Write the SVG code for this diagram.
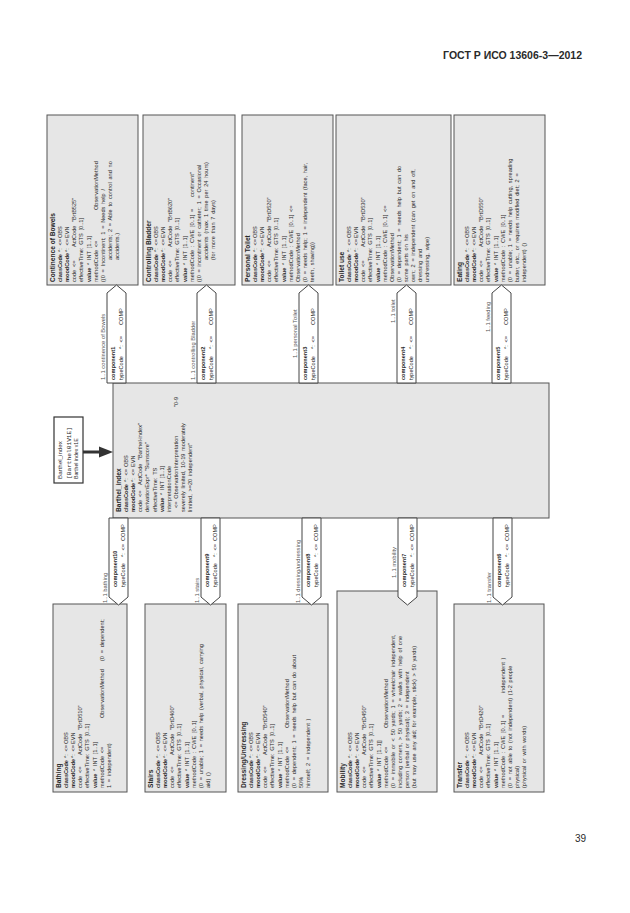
<svg xmlns="http://www.w3.org/2000/svg" width="630" height="913" viewBox="0 0 630 913">
<style>
text{font-family:"Liberation Sans",Arial,Helvetica,sans-serif;fill:#2a2a2a}
.t{font-size:5.6px;word-spacing:1.2px}
.b{font-weight:bold}
.ti{font-size:6.6px;font-weight:bold}
.lb{font-size:5.8px;fill:#555}
.bx{fill:#e6e6e6;stroke:#555;stroke-width:1}
.cp{fill:#fff;stroke:#444;stroke-width:1}
.sb{fill:#fff;stroke:#333;stroke-width:1.2}
.mono{font-family:"Liberation Mono","Courier New",monospace;font-size:6.2px}
</style>
<rect width="630" height="913" fill="#fff"/>
<text x="582" y="58.5" text-anchor="end" font-size="10.5" font-weight="bold">ГОСТ Р ИСО 13606-3—2012</text>
<text x="586" y="842" text-anchor="end" font-size="10">39</text>
<g transform="translate(0,913) rotate(-90)">

<g id="barthel-index-ref">
<rect class="sb" x="430" y="54" width="66" height="29"/>
<text x="434" y="62" font-size="6.2">Barthel_index</text>
<text class="mono" x="434" y="70.5">[Barthel01V1E]</text>
<text x="434" y="78" font-size="5.2">Barthel index v1E</text>
</g>

<g id="barthel-index">
<rect class="bx" x="395" y="113" width="135" height="436"/>
<text class="ti" x="401" y="121">Barthel_index</text>
<text class="t" y="128.1"><tspan x="401" class="b">classCode</tspan><tspan x="431">*: &lt;=</tspan><tspan x="446">OBS</tspan></text>
<text class="t" y="135.2"><tspan x="401" class="b">moodCode</tspan><tspan x="431">*: &lt;=</tspan><tspan x="446">EVN</tspan></text>
<text class="t" y="142.3"><tspan x="401">code &lt;=</tspan><tspan x="428">ActCode</tspan><tspan x="453">"Barthel-index"</tspan></text>
<text class="t" x="401" y="149.4">derivationExpr* "Sumscore"</text>
<text class="t" x="401" y="156.5">effectiveTime: TS</text>
<text class="t" x="401" y="163.6"><tspan class="b">value</tspan> * INT [1..1]</text>
<text class="t" x="401" y="170.7">interpretationCode</text>
<text class="t" y="177.8"><tspan x="405">&lt;= ObservationInterpretation</tspan><tspan x="506">"0-9</tspan></text>
<text class="t" x="401" y="184.9">severely limited, 10-19 moderately</text>
<text class="t" x="401" y="192">limited, &gt;=20 independent"</text>
</g>

<g id="continence-of-bowels">
<rect class="bx" x="628" y="47" width="170" height="91"/>
<text class="ti" x="631" y="55">Continence of Bowels</text>
<text class="t" y="62.1"><tspan x="631" class="b">classCode</tspan><tspan x="661">*: &lt;=</tspan><tspan x="675">OBS</tspan></text>
<text class="t" y="69.2"><tspan x="631" class="b">moodCode</tspan><tspan x="661">*: &lt;=</tspan><tspan x="675">EVN</tspan></text>
<text class="t" y="76.3"><tspan x="631">code &lt;=</tspan><tspan x="666">ActCode</tspan><tspan x="691">"BrtB525"</tspan></text>
<text class="t" x="631" y="83.4">effectiveTime: GTS [0..1]</text>
<text class="t" x="631" y="90.5"><tspan class="b">value</tspan> * INT [1..1]</text>
<text class="t" y="97.6"><tspan x="631">methodCode &lt;=</tspan><tspan x="703">ObservationMethod</tspan></text>
<text class="t" x="631" y="104.7">((0 = Incontinent; 1 = Needs help /</text>
<text class="t" x="653" y="111.8">accidents; 2 = Able to control and no</text>
<text class="t" x="653" y="118.9">accidents.)</text>
</g>

<g id="controlling-bladder">
<rect class="bx" x="628" y="143" width="170" height="92"/>
<text class="ti" x="631" y="151">Controlling Bladder</text>
<text class="t" y="158.1"><tspan x="631" class="b">classCode</tspan><tspan x="661">*: &lt;=</tspan><tspan x="675">OBS</tspan></text>
<text class="t" y="165.2"><tspan x="631" class="b">moodCode</tspan><tspan x="661">*: &lt;=</tspan><tspan x="675">EVN</tspan></text>
<text class="t" y="172.3"><tspan x="631">code &lt;=</tspan><tspan x="666">ActCode</tspan><tspan x="691">"BrtB620"</tspan></text>
<text class="t" x="631" y="179.4">effectiveTime: GTS [0..1]</text>
<text class="t" x="631" y="186.5"><tspan class="b">value</tspan> * INT [1..1]</text>
<text class="t" y="193.6"><tspan x="631">methodCode : CWE [0..1] =</tspan><tspan x="716">continent"</tspan></text>
<text class="t" x="631" y="200.7">((0 = incontinent or catheter; 1 = Occasional</text>
<text class="t" x="653" y="207.8">accidents (max. 1 time per 24 hours)</text>
<text class="t" x="653" y="214.9">(for more than 7 days)</text>
</g>

<g id="personal-toilet">
<rect class="bx" x="628" y="242" width="170" height="91"/>
<text class="ti" x="631" y="250">Personal Toilet</text>
<text class="t" y="257.1"><tspan x="631" class="b">classCode</tspan><tspan x="661">*: &lt;=</tspan><tspan x="675">OBS</tspan></text>
<text class="t" y="264.2"><tspan x="631" class="b">moodCode</tspan><tspan x="661">*: &lt;=</tspan><tspan x="675">EVN</tspan></text>
<text class="t" y="271.3"><tspan x="631">code &lt;=</tspan><tspan x="666">ActCode</tspan><tspan x="691">"BrtD520"</tspan></text>
<text class="t" x="631" y="278.4">effectiveTime: GTS [0..1]</text>
<text class="t" x="631" y="285.5"><tspan class="b">value</tspan> * INT [1..1]</text>
<text class="t" x="631" y="292.6">methodCode : CWE [0..1] &lt;=</text>
<text class="t" x="631" y="299.7">ObservationMethod</text>
<text class="t" x="631" y="306.8">(0 = needs help; 1 = independent (face, hair,</text>
<text class="t" x="631" y="313.9">teeth, shaving))</text>
</g>

<g id="toilet-use">
<rect class="bx" x="628" y="336" width="170" height="115"/>
<text class="ti" x="631" y="344">Toilet use</text>
<text class="t" y="351.1"><tspan x="631" class="b">classCode</tspan><tspan x="661">*: &lt;=</tspan><tspan x="675">OBS</tspan></text>
<text class="t" y="358.2"><tspan x="631" class="b">moodCode</tspan><tspan x="661">*: &lt;=</tspan><tspan x="675">EVN</tspan></text>
<text class="t" y="365.3"><tspan x="631">code &lt;=</tspan><tspan x="666">ActCode</tspan><tspan x="691">"BrtD530"</tspan></text>
<text class="t" x="631" y="372.4">effectiveTime: GTS [0..1]</text>
<text class="t" x="631" y="379.5"><tspan class="b">value</tspan> * INT [1..1]</text>
<text class="t" x="631" y="386.6">methodCode : CWE [0..1] &lt;=</text>
<text class="t" x="631" y="393.7">ObservationMethod</text>
<text class="t" x="631" y="400.8">(0 = dependent; 1 = needs help but can do</text>
<text class="t" x="631" y="407.9">some parts on his</text>
<text class="t" x="631" y="415">own; 2 = independent (can get on and off,</text>
<text class="t" x="631" y="422.1">dressing and</text>
<text class="t" x="631" y="429.2">undressing, wipe)</text>
</g>

<g id="eating">
<rect class="bx" x="628" y="454" width="170" height="91"/>
<text class="ti" x="631" y="462">Eating</text>
<text class="t" y="469.1"><tspan x="631" class="b">classCode</tspan><tspan x="661">*: &lt;=</tspan><tspan x="675">OBS</tspan></text>
<text class="t" y="476.2"><tspan x="631" class="b">moodCode</tspan><tspan x="661">*: &lt;=</tspan><tspan x="675">EVN</tspan></text>
<text class="t" y="483.3"><tspan x="631">code &lt;=</tspan><tspan x="666">ActCode</tspan><tspan x="691">"BrtD550"</tspan></text>
<text class="t" x="631" y="490.4">effectiveTime: GTS [0..1]</text>
<text class="t" x="631" y="497.5"><tspan class="b">value</tspan> * INT [1..1]</text>
<text class="t" x="631" y="504.6">methodCode : CWE [0..1]</text>
<text class="t" x="631" y="511.7">(0 = unable; 1 = needs help cutting, spreading</text>
<text class="t" x="631" y="518.8">butter, etc., or requires modified diet; 2 =</text>
<text class="t" x="631" y="525.9">independent) ()</text>
</g>

<g id="bathing">
<rect class="bx" x="121" y="53" width="188" height="74"/>
<text class="ti" x="125" y="61">Bathing</text>
<text class="t" y="68.1"><tspan x="125" class="b">classCode</tspan><tspan x="155">*: &lt;=</tspan><tspan x="169">OBS</tspan></text>
<text class="t" y="75.2"><tspan x="125" class="b">moodCode</tspan><tspan x="155">*: &lt;=</tspan><tspan x="169">EVN</tspan></text>
<text class="t" y="82.3"><tspan x="125">code &lt;=</tspan><tspan x="158">ActCode</tspan><tspan x="183">"BrtD510"</tspan></text>
<text class="t" x="125" y="89.4">effectiveTime: GTS [0..1]</text>
<text class="t" x="125" y="96.5"><tspan class="b">value</tspan> * INT [1..1]</text>
<text class="t" y="103.6"><tspan x="125">methodCode &lt;=</tspan><tspan x="195">ObservationMethod</tspan><tspan x="252">(0 = dependent;</tspan></text>
<text class="t" x="125" y="110.7">1 = independent)</text>
</g>

<g id="stairs">
<rect class="bx" x="121" y="145" width="188" height="81"/>
<text class="ti" x="125" y="153">Stairs</text>
<text class="t" y="160.1"><tspan x="125" class="b">classCode</tspan><tspan x="155">*: &lt;=</tspan><tspan x="169">OBS</tspan></text>
<text class="t" y="167.2"><tspan x="125" class="b">moodCode</tspan><tspan x="155">*: &lt;=</tspan><tspan x="169">EVN</tspan></text>
<text class="t" y="174.3"><tspan x="125">code &lt;=</tspan><tspan x="158">ActCode</tspan><tspan x="183">"BrtD460"</tspan></text>
<text class="t" x="125" y="181.4">effectiveTime: GTS [0..1]</text>
<text class="t" x="125" y="188.5"><tspan class="b">value</tspan> * INT [1..1]</text>
<text class="t" x="125" y="195.6">methodCode : CWE [0..1]</text>
<text class="t" x="125" y="202.7">(0 = unable; 1 = needs help (verbal, physical, carrying</text>
<text class="t" x="125" y="209.8">aid) ()</text>
</g>

<g id="dressing-undressing">
<rect class="bx" x="121" y="238" width="188" height="90"/>
<text class="ti" x="125" y="246">Dressing/Undressing</text>
<text class="t" y="253.1"><tspan x="125" class="b">classCode</tspan><tspan x="155">*: &lt;=</tspan><tspan x="169">OBS</tspan></text>
<text class="t" y="260.2"><tspan x="125" class="b">moodCode</tspan><tspan x="155">*: &lt;=</tspan><tspan x="169">EVN</tspan></text>
<text class="t" y="267.3"><tspan x="125">code &lt;=</tspan><tspan x="158">ActCode</tspan><tspan x="183">"BrtD540"</tspan></text>
<text class="t" x="125" y="274.4">effectiveTime: GTS [0..1]</text>
<text class="t" x="125" y="281.5"><tspan class="b">value</tspan> * INT [1..1]</text>
<text class="t" y="288.6"><tspan x="125">methodCode &lt;=</tspan><tspan x="185">ObservationMethod</tspan></text>
<text class="t" x="125" y="295.7">(0 = dependent; 1 = needs help but can do about</text>
<text class="t" x="125" y="302.8">50%</text>
<text class="t" x="125" y="309.9">himself; 2 = independent )</text>
</g>

<g id="mobility">
<rect class="bx" x="121" y="337" width="201" height="100"/>
<text class="ti" x="125" y="345">Mobility</text>
<text class="t" y="352.1"><tspan x="125" class="b">classCode</tspan><tspan x="155">*: &lt;=</tspan><tspan x="169">OBS</tspan></text>
<text class="t" y="359.2"><tspan x="125" class="b">moodCode</tspan><tspan x="155">*: &lt;=</tspan><tspan x="169">EVN</tspan></text>
<text class="t" y="366.3"><tspan x="125">code &lt;=</tspan><tspan x="158">ActCode</tspan><tspan x="183">"BrtD450"</tspan></text>
<text class="t" x="125" y="373.4">effectiveTime: GTS [0..1]</text>
<text class="t" x="125" y="380.5"><tspan class="b">value</tspan> * INT [1..1]]</text>
<text class="t" y="387.6"><tspan x="125">methodCode &lt;=</tspan><tspan x="185">ObservationMethod</tspan></text>
<text class="t" x="125" y="394.7">(0 = immobile or &lt; 50 yards; 1 = wheelchair independent,</text>
<text class="t" x="125" y="401.8">including corners, &gt; 50 yards; 2 = walks with help of one</text>
<text class="t" x="125" y="408.9">person (verbal or physical); 3 = independent</text>
<text class="t" x="125" y="416">(but may use any aid; for example, stick) &gt; 50 yards)</text>
</g>

<g id="transfer">
<rect class="bx" x="121" y="454" width="188" height="90"/>
<text class="ti" x="125" y="462">Transfer</text>
<text class="t" y="469.1"><tspan x="125" class="b">classCode</tspan><tspan x="155">*: &lt;=</tspan><tspan x="169">OBS</tspan></text>
<text class="t" y="476.2"><tspan x="125" class="b">moodCode</tspan><tspan x="155">*: &lt;=</tspan><tspan x="169">EVN</tspan></text>
<text class="t" y="483.3"><tspan x="125">code &lt;=</tspan><tspan x="158">ActCode</tspan><tspan x="183">"BrtD420"</tspan></text>
<text class="t" x="125" y="490.4">effectiveTime: GTS [0..1]</text>
<text class="t" x="125" y="497.5"><tspan class="b">value</tspan> * INT [1..1]</text>
<text class="t" y="504.6"><tspan x="125">methodCode : CWE [0..1] =</tspan><tspan x="220">independent )</tspan></text>
<text class="t" x="125" y="511.7">(0 = not able to (not independent) (1-2 people</text>
<text class="t" x="125" y="518.8">physical)</text>
<text class="t" x="125" y="525.9">(physical or with words)</text>
</g>

<g id="connectors">
<g id="arrow-ref">
<line x1="461" y1="83" x2="461" y2="100" stroke="#333" stroke-width="3"/>
<polygon points="461,113 455.5,99 466.5,99" fill="#333"/>
</g>
<g id="component1">
<polygon class="cp" points="530,107 620,107 628,116.5 620,126 530,126"/>
<text class="t b" x="533" y="114.8">component1</text>
<text class="t" y="123"><tspan x="533">typeCode</tspan><tspan x="564">*: &lt;=</tspan><tspan x="588">COMP</tspan></text>
<text class="lb" x="533" y="104.5">1..1 continence of Bowels</text>
</g>
<g id="component2">
<polygon class="cp" points="530,197 620,197 628,206.5 620,216 530,216"/>
<text class="t b" x="533" y="204.8">component2</text>
<text class="t" y="213"><tspan x="533">typeCode</tspan><tspan x="564">*: &lt;=</tspan><tspan x="588">COMP</tspan></text>
<text class="lb" x="533" y="194.5">1..1 controlling Bladder</text>
</g>
<g id="component3">
<polygon class="cp" points="530,299 620,299 628,308.5 620,318 530,318"/>
<text class="t b" x="533" y="306.8">component3</text>
<text class="t" y="315"><tspan x="533">typeCode</tspan><tspan x="564">*: &lt;=</tspan><tspan x="588">COMP</tspan></text>
<text class="lb" x="555" y="296.5">1..1 personal Toilet</text>
</g>
<g id="component4">
<polygon class="cp" points="530,397 620,397 628,406.5 620,416 530,416"/>
<text class="t b" x="533" y="404.8">component4</text>
<text class="t" y="413"><tspan x="533">typeCode</tspan><tspan x="564">*: &lt;=</tspan><tspan x="588">COMP</tspan></text>
<text class="lb" x="590" y="394.5">1..1 toilet</text>
</g>
<g id="component5">
<polygon class="cp" points="530,492 620,492 628,501.5 620,511 530,511"/>
<text class="t b" x="533" y="499.8">component5</text>
<text class="t" y="508"><tspan x="533">typeCode</tspan><tspan x="564">*: &lt;=</tspan><tspan x="588">COMP</tspan></text>
<text class="lb" x="581" y="489.5">1..1 feeding</text>
</g>
<g id="component10">
<polygon class="cp" points="395,109 316,109 308,118.5 316,128 395,128"/>
<text class="t b" x="326" y="116.8">component10</text>
<text class="t" y="125"><tspan x="326">typeCode</tspan><tspan x="356">*: &lt;=</tspan><tspan x="372">COMP</tspan></text>
<text class="lb" x="310" y="106.5">1..1 bathing</text>
</g>
<g id="component9">
<polygon class="cp" points="395,201 316,201 308,210.5 316,220 395,220"/>
<text class="t b" x="326" y="208.8">component9</text>
<text class="t" y="217"><tspan x="326">typeCode</tspan><tspan x="356">*: &lt;=</tspan><tspan x="372">COMP</tspan></text>
<text class="lb" x="310" y="198.5">1..1 stairs</text>
</g>
<g id="component8">
<polygon class="cp" points="395,302 316,302 308,311.5 316,321 395,321"/>
<text class="t b" x="326" y="309.8">component8</text>
<text class="t" y="318"><tspan x="326">typeCode</tspan><tspan x="356">*: &lt;=</tspan><tspan x="372">COMP</tspan></text>
<text class="lb" x="310" y="299.5">1..1 dressing/undressing</text>
</g>
<g id="component7">
<polygon class="cp" points="395,398 316,398 308,407.5 316,417 395,417"/>
<text class="t b" x="326" y="405.8">component7</text>
<text class="t" y="414"><tspan x="326">typeCode</tspan><tspan x="356">*: &lt;=</tspan><tspan x="372">COMP</tspan></text>
<text class="lb" x="335" y="395.5">1..1 mobility</text>
</g>
<g id="component6">
<polygon class="cp" points="395,493 316,493 308,502.5 316,512 395,512"/>
<text class="t b" x="326" y="500.8">component6</text>
<text class="t" y="509"><tspan x="326">typeCode</tspan><tspan x="356">*: &lt;=</tspan><tspan x="372">COMP</tspan></text>
<text class="lb" x="310" y="490.5">1..1 transfer</text>
</g>
</g>
</g>
</svg>
